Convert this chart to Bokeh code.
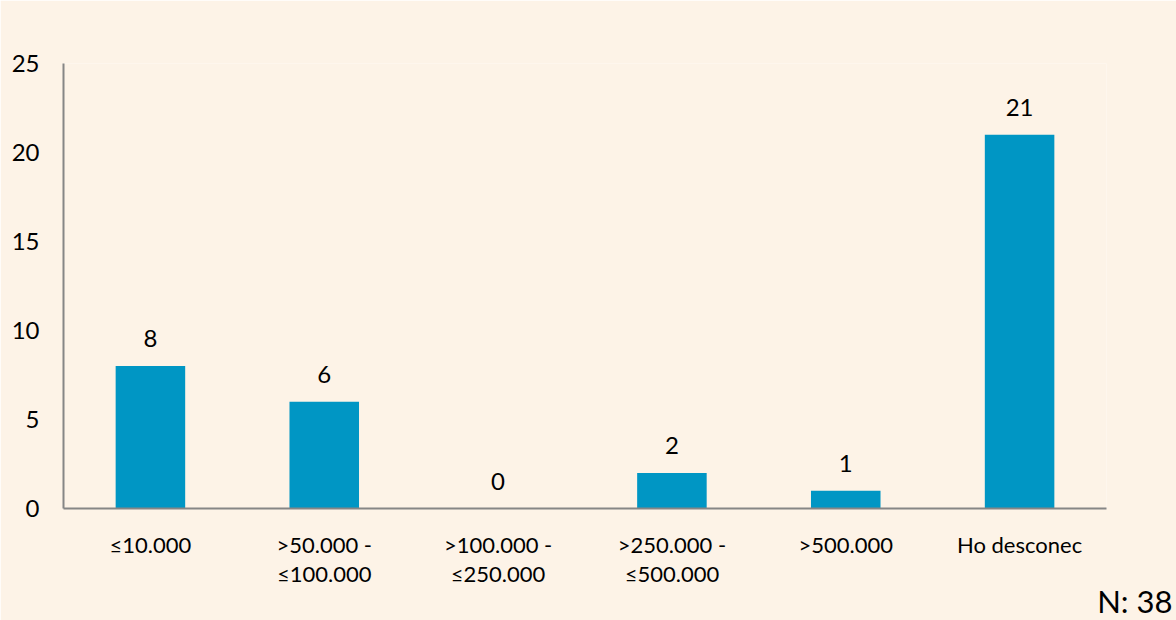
from bokeh.plotting import figure
from bokeh.models import ColumnDataSource, LabelSet, Title, Range1d, FixedTicker
from bokeh.core.properties import value
from bokeh.embed import file_html
from bokeh.resources import INLINE

categories = ["≤10.000", ">50.000 -\n≤100.000", ">100.000 -\n≤250.000",
              ">250.000 -\n≤500.000", ">500.000", "Ho desconec"]
values = [8, 6, 0, 2, 1, 21]
y_ticks = [0, 5, 10, 15, 20, 25]
note = "N: 38"

BG = "#fdf3e7"
BAR = "#0096c4"
FONT = "Lato"

src = ColumnDataSource(dict(cat=categories, val=values, lab=[str(v) for v in values]))

p = figure(x_range=categories, y_range=Range1d(0, 25), width=1176, height=620,
           output_backend="svg", toolbar_location=None,
           min_border_left=63, min_border_top=63, min_border_bottom=112, min_border_right=70)
p.background_fill_color = BG
p.border_fill_color = BG
p.outline_line_color = None
p.xgrid.visible = False
p.ygrid.visible = False

p.vbar(x="cat", top="val", width=0.4, source=src, fill_color=BAR, line_color=None)

p.add_layout(LabelSet(x="cat", y="val", text="lab", source=src, text_align="center",
                      text_baseline="bottom", y_offset=19, text_font=value(FONT),
                      text_font_size=value("24px"), text_color=value("#000000")))

p.yaxis.ticker = FixedTicker(ticks=y_ticks)
for ax in (p.xaxis, p.yaxis):
    ax.axis_line_color = "#868686"
    ax.axis_line_width = 2
    ax.major_tick_line_color = None
    ax.minor_tick_line_color = None
    ax.major_label_text_font = FONT
    ax.major_label_text_color = "#000000"
p.yaxis.major_label_text_font_size = "24px"
p.yaxis.major_label_standoff = 18
p.xaxis.major_label_text_font_size = "22px"
p.xaxis.major_label_standoff = 16
p.xaxis.major_label_text_line_height = 1.1

p.add_layout(Title(text=note, align="right", offset=-66, standoff=-20,
                   vertical_align="middle", text_baseline="middle",
                   text_font=FONT, text_font_size="31px", text_font_style="normal",
                   text_color="#000000"), "below")

html = file_html(p, INLINE)
html = html.replace("<body>", '<body style="background-color:%s">' % BG, 1)
open("out.html", "w").write(html)
